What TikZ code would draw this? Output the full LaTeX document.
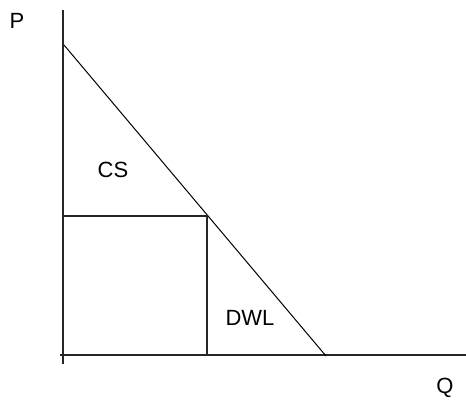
\documentclass[tikz,border=0pt]{standalone}
\usepackage{fontspec}
\setmainfont{Liberation Sans}
\usepackage{tikz}
\usetikzlibrary{positioning,calc}

\begin{document}
\begin{tikzpicture}[
  x=1pt, y=-1pt,
  font=\fontsize{22}{26}\selectfont,
  axis/.style={line width=1.6pt, black!85},
  curve/.style={line width=1pt, black},
  lab/.style={inner sep=0pt, anchor=center}
]
\useasboundingbox (0,0) rectangle (466,404);
% axes
\coordinate (top) at (63,10);
\coordinate (bot) at (63,364);
\coordinate (left) at (60,355);
\coordinate (right) at (466,355);
\draw[axis] (top) -- (bot);
\draw[axis] (left) -- (right);
% demand
\coordinate (dA) at (64,45);
\coordinate (dB) at (326,356);
\draw[curve] (dA) -- (dB);
% price and quantity
\coordinate (pL) at (63,216);
\coordinate (eq) at (207,216);
\coordinate (qB) at (207,355);
\draw[axis] (pL) -- (eq) -- (qB);
% labels
\node[lab] (P) at (17,21) {P};
\node[lab] (Q) at (445,388) {Q};
\node[lab] (cs) at (113,170) {CS};
\node[lab] (dwl) at (250,318) {DWL};
\end{tikzpicture}
\end{document}
